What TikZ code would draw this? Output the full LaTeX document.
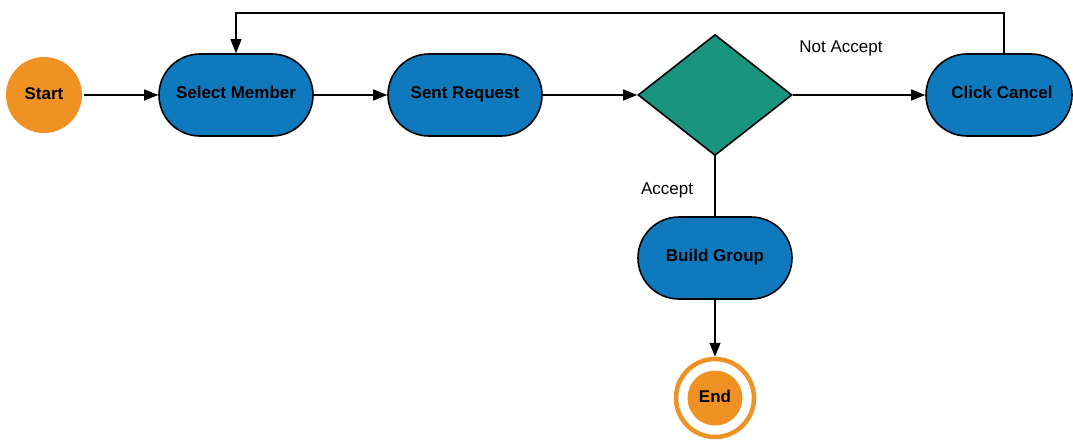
\documentclass[tikz,border=0pt]{standalone}
\usepackage{fontspec}
\setmainfont{Liberation Sans}
\usetikzlibrary{shapes.geometric,shapes.misc,arrows.meta}
\definecolor{cOrange}{HTML}{F09123}
\definecolor{cBlue}{HTML}{0E7ABD}
\definecolor{cGreen}{HTML}{1A957D}
\begin{document}
\begin{tikzpicture}[x=1pt,y=-1pt,
  every node/.style={font=\fontsize{17}{20}\selectfont},
  proc/.style={draw=black,line width=1.6pt,fill=cBlue,rounded rectangle,minimum width=154pt,minimum height=82pt,inner sep=0pt,text height=12pt,text depth=5pt,font=\fontsize{17}{20}\selectfont\bfseries},
  term/.style={circle,fill=cOrange,inner sep=0pt,text height=12pt,text depth=4pt,font=\fontsize{17}{20}\selectfont\bfseries},
  conn/.style={line width=1.4pt,-{Triangle[length=14pt,width=11pt]}},
  plain/.style={line width=1.4pt}]
\useasboundingbox (0,0) rectangle (1073,440);
\node[term,minimum size=76pt] (start) at (44,95) {Start};
\node[proc] (sel) at (236,95) {Select Member};
\node[proc] (sent) at (465,95) {Sent Request};
\node[diamond,draw=black,line width=1.6pt,fill=cGreen,minimum width=154pt,minimum height=121pt,inner sep=0pt,aspect=1.27] (dec) at (715,95) {};
\node[proc,minimum width=146pt] (cancel) at (999,95) {\hspace{6pt}Click Cancel};
\node[proc] (build) at (715,258) {Build Group};
\node[circle,draw=cOrange,line width=4.5pt,minimum size=78pt,inner sep=0pt] (endring) at (715,398) {};
\node[term,minimum size=55pt] (end) at (715,398) {End};
\node (na) at (841,48) {Not Accept};
\node (acc) at (667,190) {Accept};
\coordinate (c1) at (1004,13);
\coordinate (c2) at (236,13);
\draw[conn] (start.east) ++(2,0) -- (sel.west);
\draw[conn] (sel.east) -- (sent.west);
\draw[conn] (sent.east) -- (dec.west);
\draw[conn] (dec.east) -- (cancel.west);
\draw[plain] (dec.south) -- (build.north);
\draw[conn] (build.south) -- (endring.north);
\draw[conn] (cancel.north -| c1) -- (c1) -- (c2) -- (sel.north);
\end{tikzpicture}
\end{document}
